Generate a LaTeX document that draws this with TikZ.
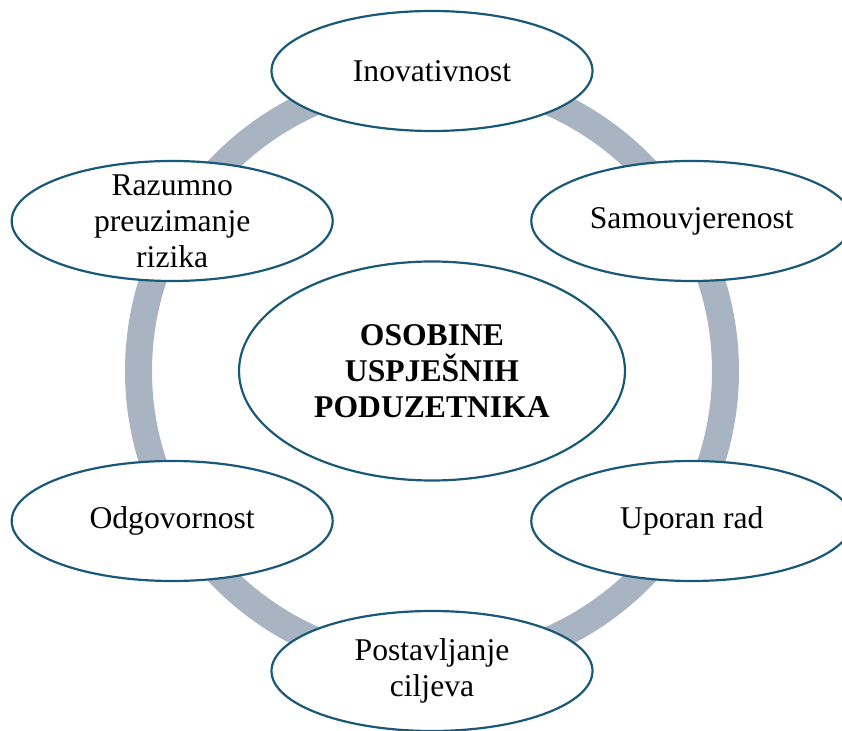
\documentclass[tikz,border=0pt]{standalone}
\usepackage{fontspec}
\setmainfont{Liberation Serif}
\usepackage{tikz}
\usetikzlibrary{positioning,shapes.geometric,calc}
\definecolor{ringgray}{RGB}{168,180,193}
\definecolor{edgeblue}{RGB}{26,88,119}

\begin{document}
\begin{tikzpicture}[
  oval/.style={ellipse, draw=edgeblue, line width=1.25pt, fill=white, inner sep=0pt,
               minimum width=6.42cm, minimum height=2.4cm},
  core/.style={ellipse, draw=edgeblue, line width=1.25pt, fill=white, inner sep=0pt,
               minimum width=7.72cm, minimum height=4.38cm},
  txt/.style={align=center, font=\fontsize{18}{20.5}\selectfont},
  bold/.style={align=center, font=\fontsize{18}{20.5}\selectfont\bfseries}
]
  \useasboundingbox (-8.64,-7.20) rectangle (8.20,7.42);
  \draw[ringgray, line width=0.54cm] (0,0) circle (5.87);

  \node[core] (center) at (0,0) {};
  \node[oval] (a) at (90:6) {};
  \node[oval] (b) at (30:6) {};
  \node[oval] (c) at (-30:6) {};
  \node[oval] (d) at (-90:6) {};
  \node[oval] (e) at (-150:6) {};
  \node[oval] (f) at (150:6) {};

  \node[bold] at (center) {OSOBINE\\USPJEŠNIH\\PODUZETNIKA};
  \node[txt] at (a) {Inovativnost};
  \node[txt] at (b) {Samouvjerenost};
  \node[txt] at (c) {Uporan rad};
  \node[txt] at (d) {Postavljanje\\ciljeva};
  \node[txt] at (e) {Odgovornost};
  \node[txt] at (f) {Razumno\\preuzimanje\\rizika};
\end{tikzpicture}
\end{document}
